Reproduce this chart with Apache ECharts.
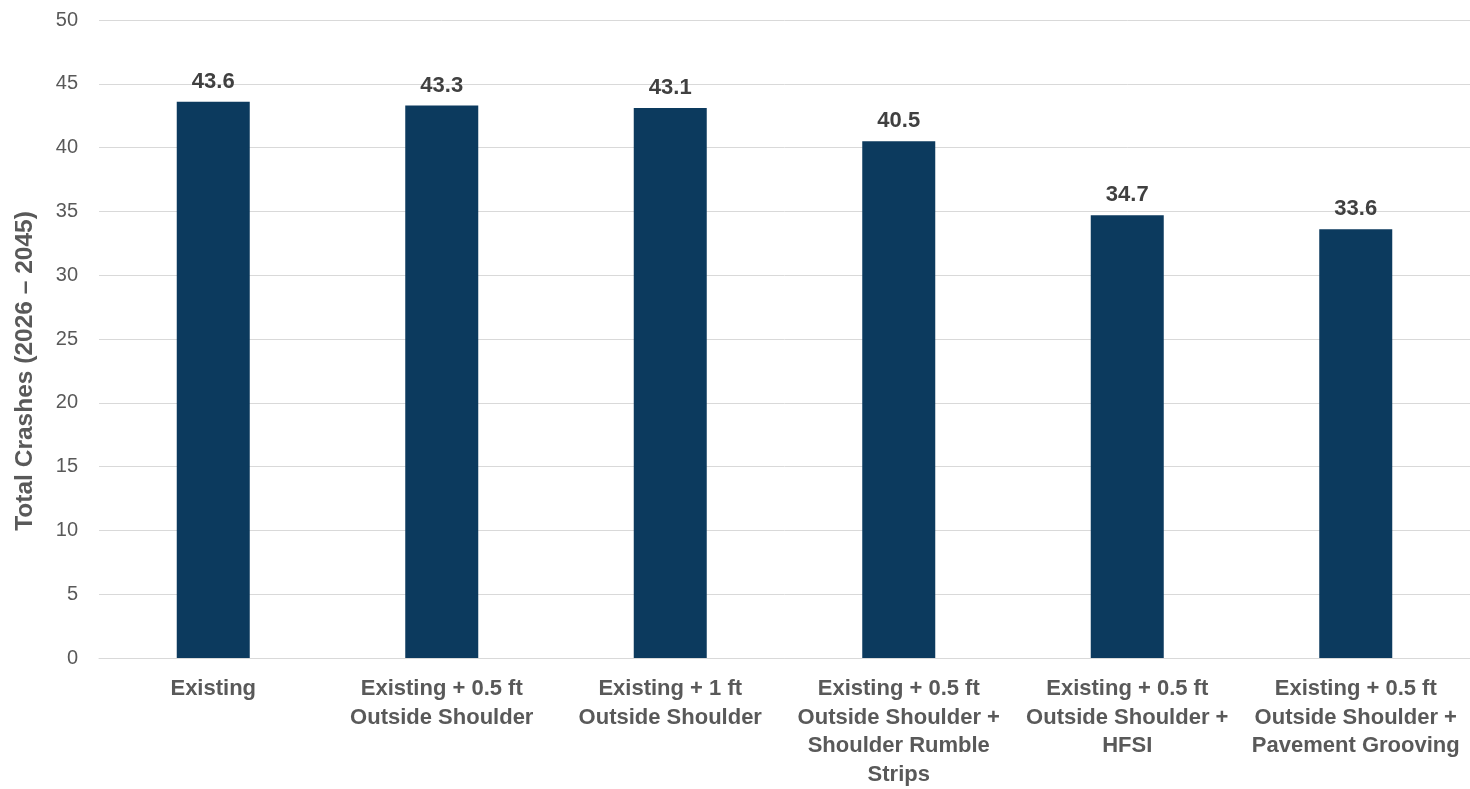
<!DOCTYPE html>
<html>
<head>
<meta charset="utf-8">
<script src="https://cdn.jsdelivr.net/npm/echarts@6/dist/echarts.min.js"></script>
<style>
html,body{margin:0;padding:0;background:#fff;overflow:hidden;}
#chart{width:1470px;height:789px;}
</style>
</head>
<body>
<div id="chart"></div>
<script>
var categories = [
  "Existing",
  "Existing + 0.5 ft\nOutside Shoulder",
  "Existing + 1 ft\nOutside Shoulder",
  "Existing + 0.5 ft\nOutside Shoulder +\nShoulder Rumble\nStrips",
  "Existing + 0.5 ft\nOutside Shoulder +\nHFSI",
  "Existing + 0.5 ft\nOutside Shoulder +\nPavement Grooving"
];
var totalCrashes = [43.6, 43.3, 43.1, 40.5, 34.7, 33.6];
var yTicks = [0, 5, 10, 15, 20, 25, 30, 35, 40, 45, 50];
var yTitle = "Total Crashes (2026 \u2013 2045)";

var font = "'Liberation Sans', Arial, sans-serif";
var chart = echarts.init(document.getElementById('chart'), null, {renderer: 'canvas', width: 1470, height: 789});
chart.setOption({
  animation: false,
  backgroundColor: '#ffffff',
  grid: {left: 99, top: 20, width: 1375, height: 643, containLabel: false},
  xAxis: {
    type: 'category',
    data: categories,
    axisLine: {show: true, lineStyle: {color: '#d9d9d9', width: 1}},
    axisTick: {show: false},
    axisLabel: {
      interval: 0,
      margin: 17,
      color: '#595959',
      fontFamily: font,
      fontWeight: 'bold',
      fontSize: 22,
      lineHeight: 28.5,
      align: 'center'
    }
  },
  yAxis: {
    type: 'value',
    min: yTicks[0],
    max: yTicks[yTicks.length - 1],
    interval: 5,
    axisLine: {show: false},
    axisTick: {show: false},
    splitLine: {lineStyle: {color: '#d9d9d9', width: 1}},
    axisLabel: {
      margin: 21,
      color: '#595959',
      fontFamily: font,
      fontSize: 20
    }
  },
  graphic: [{
    type: 'text',
    x: 25,
    y: 371,
    rotation: Math.PI / 2,
    style: {
      text: yTitle,
      fill: '#595959',
      font: 'bold 24.5px ' + font,
      textAlign: 'center',
      textVerticalAlign: 'middle'
    }
  }],
  series: [{
    type: 'bar',
    data: totalCrashes,
    barWidth: 73,
    itemStyle: {color: '#0C3A5E'},
    label: {
      show: true,
      position: 'top',
      distance: 9,
      color: '#404040',
      fontFamily: font,
      fontWeight: 'bold',
      fontSize: 22,
      formatter: function(p){ return p.value.toFixed(1); }
    }
  }]
});
</script>
</body>
</html>
